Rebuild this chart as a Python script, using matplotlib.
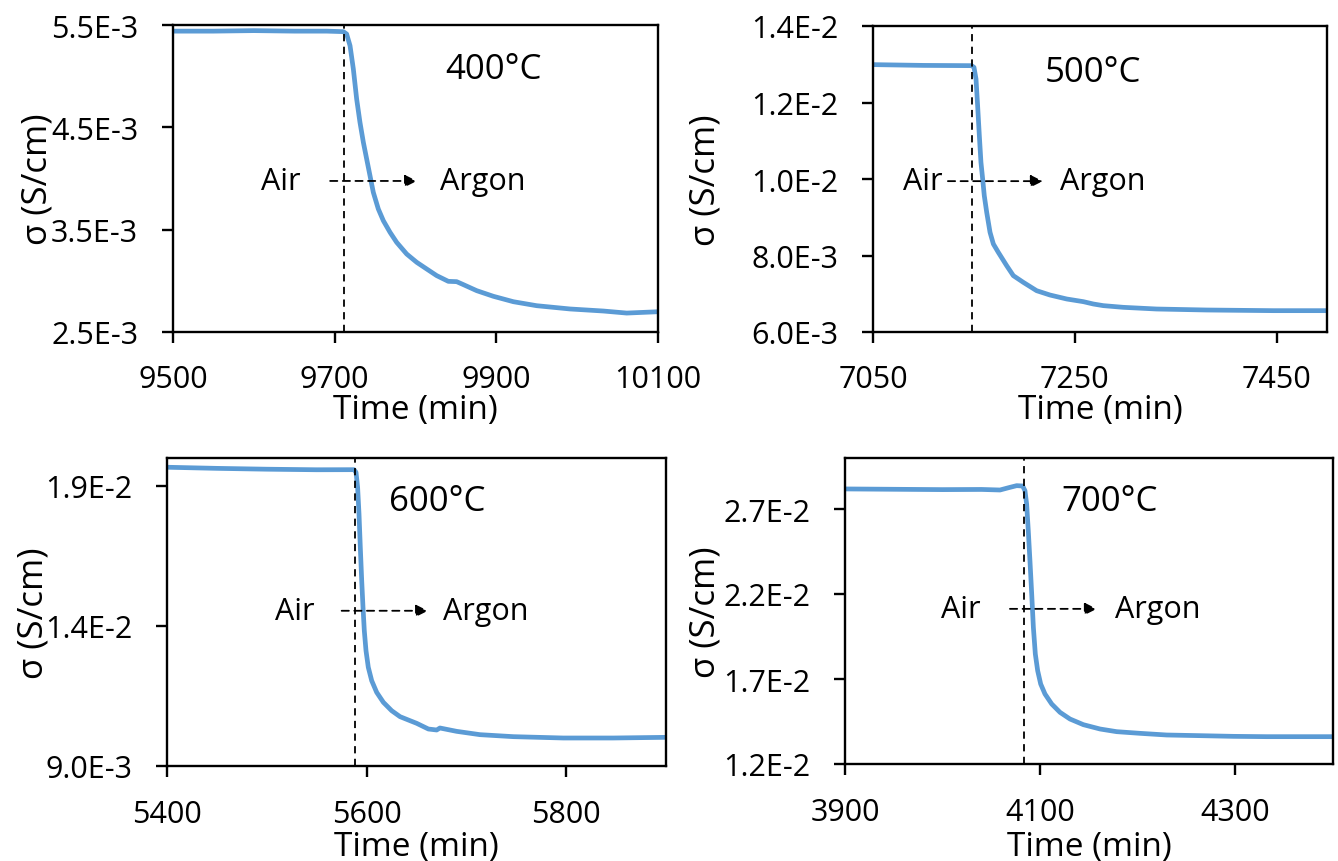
import numpy as np
import matplotlib
matplotlib.use("Agg")
import matplotlib.pyplot as plt
from matplotlib.ticker import FuncFormatter, FixedLocator

plt.rcParams['font.family'] = ['Open Sans', 'DejaVu Sans']

# ---------------- data (conductivity in units of 1e-3 S/cm) ----------------
temps = ["400°C", "500°C", "600°C", "700°C"]

t1 = [9500, 9550, 9600, 9650, 9690, 9710.7, 9714.8, 9719.0, 9723.1, 9727.2, 9731.3, 9735.5,
      9739.6, 9743.7, 9747.8, 9754.0, 9760.2, 9768.5, 9776.7, 9789.1, 9801.5, 9813.8,
      9826.2, 9840.6, 9850.9, 9859.2, 9875.7, 9896.3, 9921.1, 9949.9, 9991.2, 10032.4,
      10061.3, 10100]
s1 = [5.44, 5.44, 5.445, 5.44, 5.44, 5.435, 5.412, 5.298, 5.070, 4.777, 4.549, 4.353,
      4.190, 4.028, 3.865, 3.702, 3.588, 3.474, 3.376, 3.262, 3.181, 3.116,
      3.051, 2.995, 2.992, 2.963, 2.904, 2.849, 2.796, 2.757, 2.725, 2.705,
      2.685, 2.698]

t2 = [7050, 7100, 7147.8, 7150.1, 7152.1, 7153.7, 7155.4, 7157.0, 7158.7, 7160.3, 7162.7,
      7166.0, 7169.3, 7174.2, 7182.5, 7189.1, 7199.0, 7212.2, 7225.4, 7242.0, 7258.5,
      7268.4, 7278.3, 7298.1, 7331.2, 7380.7, 7446.8, 7500]
s2 = [12.99, 12.97, 12.963, 12.919, 12.614, 11.917, 11.133, 10.436, 10.0, 9.564, 9.129,
      8.606, 8.301, 8.083, 7.734, 7.473, 7.298, 7.080, 6.967, 6.863, 6.793,
      6.732, 6.689, 6.645, 6.601, 6.575, 6.558, 6.558]

t3 = [5400, 5450, 5500, 5550, 5587.4, 5589.4, 5591.0, 5592.4, 5593.7, 5595.1, 5596.4,
      5597.7, 5599.4, 5601.7, 5605.1, 5610.1, 5616.8, 5625.1, 5633.5, 5641.8, 5650.2,
      5661.9, 5670.2, 5673.5, 5690.2, 5713.6, 5747.0, 5797.1, 5847.2, 5900]
s3 = [19.67, 19.63, 19.60, 19.58, 19.583, 19.488, 18.952, 18.0, 16.810, 15.619, 14.667,
      13.833, 13.119, 12.524, 12.048, 11.631, 11.274, 10.976, 10.762, 10.643, 10.524,
      10.321, 10.286, 10.357, 10.238, 10.119, 10.048, 10.0, 10.0, 10.024]

t4 = [3900, 3950, 4000, 4040, 4058.8, 4069.1, 4075.9, 4082.0, 4084.4, 4086.1, 4087.8,
      4089.5, 4091.3, 4093.0, 4095.0, 4097.4, 4100.5, 4104.9, 4111.8, 4120.3, 4130.5,
      4144.2, 4161.3, 4178.3, 4202.3, 4229.6, 4263.7, 4297.9, 4332.0, 4400]
s4 = [28.18, 28.16, 28.14, 28.15, 28.118, 28.275, 28.373, 28.353, 28.078, 27.294, 25.725,
      23.961, 22.0, 20.039, 18.471, 17.490, 16.706, 16.118, 15.529, 15.039, 14.647,
      14.314, 14.059, 13.902, 13.804, 13.706, 13.667, 13.627, 13.608, 13.608]

switch_times = [9711, 7148, 5588, 4083]

xlims = [(9500, 10100), (7050, 7500), (5400, 5900), (3900, 4400)]
xticks = [[9500, 9700, 9900, 10100], [7050, 7250, 7450], [5400, 5600, 5800], [3900, 4100, 4300]]
ylims = [(2.5e-3, 5.5e-3), (6.0e-3, 1.4e-2), (9.0e-3, 2.0e-2), (1.2e-2, 3.0e-2)]
yticks = [[2.5e-3, 3.5e-3, 4.5e-3, 5.5e-3], [6.0e-3, 8.0e-3, 1.0e-2, 1.2e-2, 1.4e-2],
          [9.0e-3, 1.4e-2, 1.9e-2], [1.2e-2, 1.7e-2, 2.2e-2, 2.7e-2]]

series = [(t1, [v * 1e-3 for v in s1]), (t2, [v * 1e-3 for v in s2]),
          (t3, [v * 1e-3 for v in s3]), (t4, [v * 1e-3 for v in s4])]

# ---------------- layout ----------------
W, H = 1338, 862
boxes = [(173, 26, 658, 333), (873, 27, 1327, 333), (167, 459, 666, 767), (845, 459, 1333, 765)]
ylabel_x = [-0.280, -0.368, -0.268, -0.285]
xlabel_y = [-0.252, -0.252, -0.262, -0.268]
xpad = [15, 15, 16, 16]
air_x = [0.262, 0.152, 0.295, 0.277]
arrow_x = [(0.324, 0.503), (0.165, 0.374), (0.350, 0.523), (0.338, 0.516)]
argon_x = [0.551, 0.412, 0.553, 0.553]
arrow_y = [0.492, 0.493, 0.504, 0.507]
temp_pos = [(0.66, 0.857), (0.485, 0.85), (0.541, 0.861), (0.543, 0.86)]

BLUE = '#5B9BD5'


def sci_fmt(v, pos):
    if v <= 0:
        return "0"
    e = int(np.floor(np.log10(v) + 1e-9))
    m = v / 10 ** e
    return f"{m:.1f}E{e}"


fig = plt.figure(figsize=(W / 100, H / 100), dpi=100)
for i, (x0, y0, x1, y1) in enumerate(boxes):
    ax = fig.add_axes([x0 / W, 1 - y1 / H, (x1 - x0) / W, (y1 - y0) / H])
    t, s = series[i]
    ax.plot(t, s, color=BLUE, lw=3.4, solid_capstyle='round', solid_joinstyle='round')
    ax.axvline(switch_times[i], color='black', lw=1.3, ls=(0, (4, 3)))
    ax.set_xlim(*xlims[i])
    ax.set_ylim(*ylims[i])
    ax.xaxis.set_major_locator(FixedLocator(xticks[i]))
    ax.yaxis.set_major_locator(FixedLocator(yticks[i]))
    ax.yaxis.set_major_formatter(FuncFormatter(sci_fmt))
    for sp in ax.spines.values():
        sp.set_linewidth(1.7)
        sp.set_color('black')
    ax.tick_params(axis='both', direction='out', length=8, width=1.7, labelsize=22, colors='black')
    ax.tick_params(axis='x', pad=xpad[i])
    ax.tick_params(axis='y', pad=17)
    ax.set_xlabel("Time (min)", fontsize=24)
    ax.set_ylabel("σ (S/cm)", fontsize=25)
    ax.xaxis.label.set_va('center')
    ax.yaxis.label.set_va('center')
    ax.xaxis.set_label_coords(0.5, xlabel_y[i])
    ax.yaxis.set_label_coords(ylabel_x[i], 0.5)

    ay = arrow_y[i]
    ax.text(air_x[i], ay, "Air", transform=ax.transAxes, ha='right', va='center', fontsize=22)
    ax.annotate('', xy=(arrow_x[i][1], ay), xytext=(arrow_x[i][0], ay),
                xycoords='axes fraction', textcoords='axes fraction',
                arrowprops=dict(arrowstyle='-|>', ls=(0, (4, 3)), lw=1.3, color='black',
                                mutation_scale=18, shrinkA=0, shrinkB=0))
    ax.text(argon_x[i], ay, "Argon", transform=ax.transAxes, ha='left', va='center', fontsize=22)
    ax.text(temp_pos[i][0], temp_pos[i][1], temps[i], transform=ax.transAxes,
            ha='center', va='center', fontsize=25)

fig.savefig("out.png", dpi=100)
